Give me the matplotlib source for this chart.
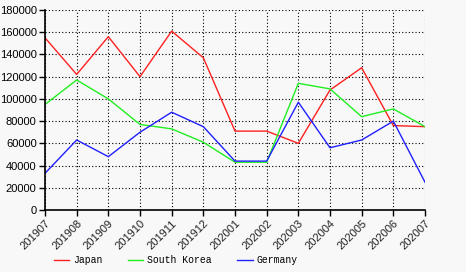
import matplotlib
matplotlib.use("Agg")
import matplotlib.pyplot as plt
from matplotlib.lines import Line2D

months = ["201907", "201908", "201909", "201910", "201911", "201912", "202001",
          "202002", "202003", "202004", "202005", "202006", "202007"]
japan = [155000, 122000, 156000, 120000, 161000, 137000, 71000, 71000, 60000,
         108000, 128000, 76000, 75000]
south_korea = [95000, 117000, 100000, 77000, 73000, 61000, 43000, 43000, 114000,
               109000, 84000, 91000, 75000]
germany = [33000, 63000, 48000, 70000, 88000, 75000, 44000, 44000, 97000,
           56000, 63000, 80000, 25000]
yticks = [0, 20000, 40000, 60000, 80000, 100000, 120000, 140000, 160000, 180000]

bg = "#f8f8f8"
fig = plt.figure(figsize=(4.66, 2.72), dpi=100, facecolor=bg)
ax = fig.add_axes([45/466, 1-210/272, 380/466, 200/272], facecolor=bg)

x = list(range(len(months)))
ax.plot(x, japan, color="#ff2020", lw=1.0)
ax.plot(x, south_korea, color="#20ee20", lw=1.0)
ax.plot(x, germany, color="#2020ff", lw=1.0)

ax.set_xlim(0, len(months)-1)
ax.set_ylim(0, 180000)
ax.set_yticks(yticks)
ax.set_yticklabels([str(v) for v in yticks], fontsize=8, family="Liberation Sans")
ax.set_xticks(x)
ax.set_xticklabels(months, rotation=45, ha="right", rotation_mode="anchor",
                   fontsize=8, family="Liberation Sans", color="#222222")
ax.grid(True, color="black", linestyle=(0, (1, 2)), lw=0.8)
for s in ["top", "right"]:
    ax.spines[s].set_visible(False)
ax.spines["left"].set_linewidth(1.2)
ax.spines["bottom"].set_linewidth(1.2)
ax.tick_params(direction="out", length=4, width=1, pad=2)

handles = [Line2D([], [], color="#ff2020", lw=1),
           Line2D([], [], color="#20ee20", lw=1),
           Line2D([], [], color="#2020ff", lw=1)]
fig.legend(handles, ["Japan", "South Korea", "Germany"], loc="center",
           bbox_to_anchor=(0.377, 1-260/272), ncol=3, frameon=False,
           prop={"family": "Liberation Mono", "size": 7}, handlelength=1.6,
           handletextpad=0.4, columnspacing=2.6)

fig.savefig("out.png", dpi=100, facecolor=bg)
